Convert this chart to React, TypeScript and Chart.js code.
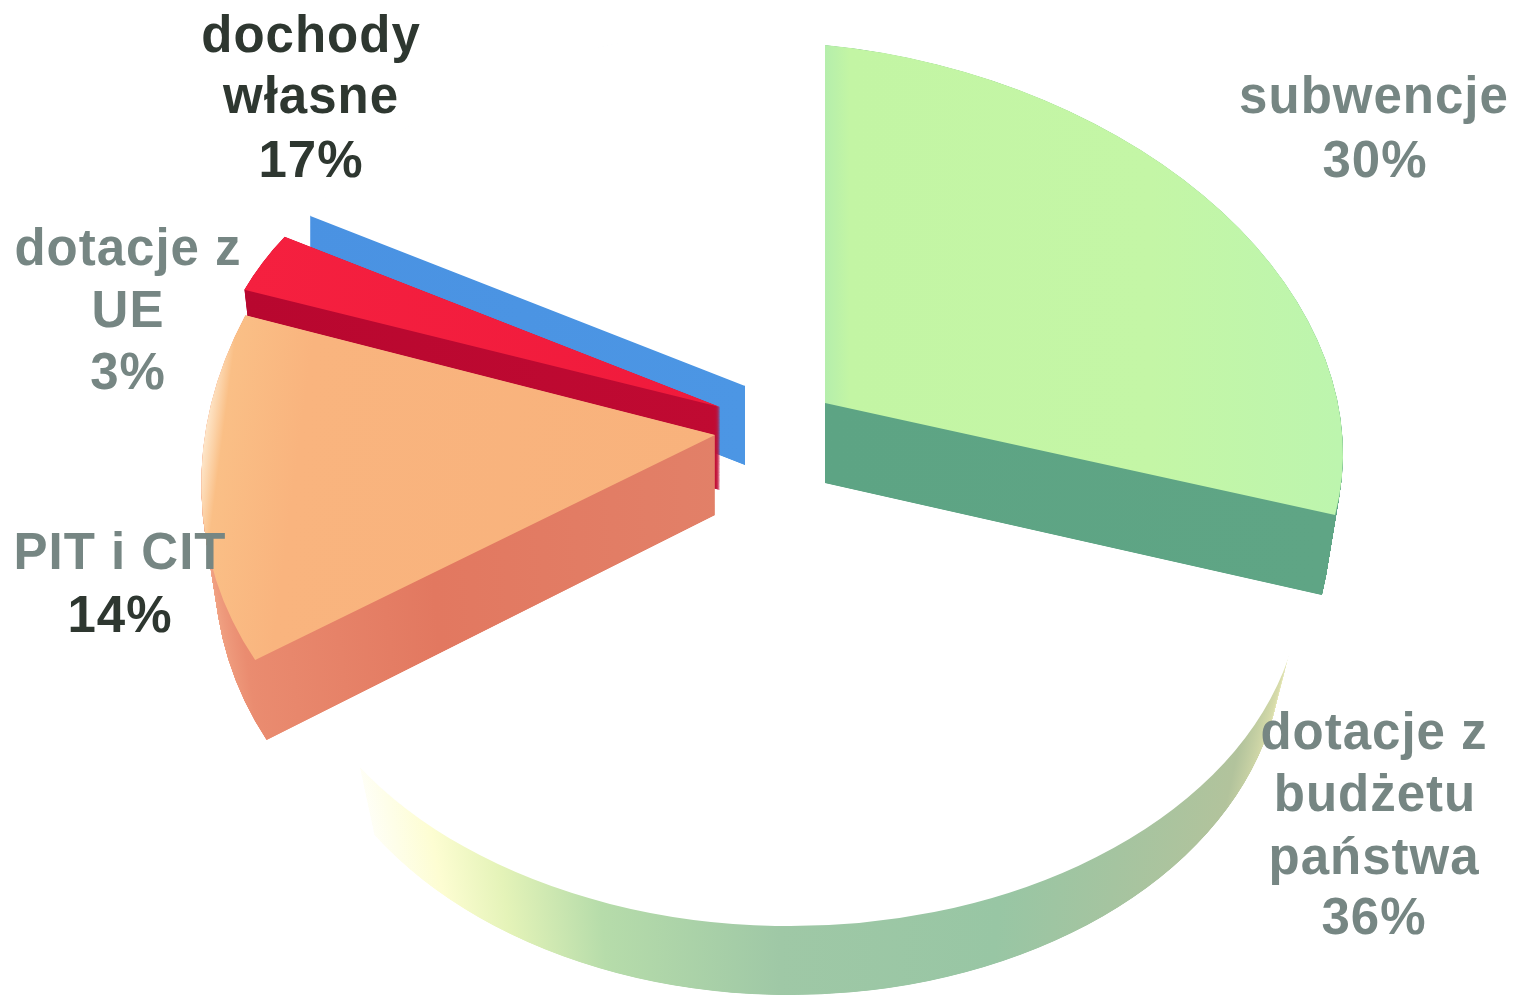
import React, { useEffect, useRef } from "react";
import { Chart, registerables } from "chart.js";

Chart.register(...registerables);

const categories = ["subwencje", "dotacje z budżetu państwa", "PIT i CIT", "dotacje z UE", "dochody własne"];
const shares = [30, 36, 14, 3, 17];

const labelLines = [
  ["subwencje", "30%"],
  ["dotacje z", "budżetu", "państwa", "36%"],
  ["PIT i CIT", "14%"],
  ["dotacje z", "UE", "3%"],
  ["dochody", "własne", "17%"],
];

// Look of each slice: [cx, cy, xu, xv, yu, yv] maps the unit pie on to the page.
const sliceFrames = [
  [825, 403, 518, 0, 50.5, 358],
  [790, 580, 510, 0, 0, 345],
  [715, 435, 511, -53, -7, 409],
  [720, 407, 505, -15, 21, 315],
  [745, 385, 496, 0, 0, 353],
];
const sliceDepth = [80, 70, 80, 83, 80];
const sliceShrink = [0.974, 0.965, 0.975, 0.98, 1];
const startExtension = [0, 0.32, 0, 0, 0];
const sweepFactor = [0.926, 1, 1, 1, 1];
const topBorder = [0, 3, 0, 0, 2.5];
const paintOrder = [1, 4, 3, 2, 0];
const LAYER_STEP = 0.25;

type Stops = [number, string][];
const topStops: Stops[] = [
  [[825, "#b5eeac"], [850, "#c3f5a4"], [1150, "#c4f6a6"], [1340, "#bdf5ae"]],
  [[0, "#ffffff"], [1515, "#ffffff"]],
  [[198, "#fff4e2"], [222, "#fabf86"], [300, "#f9b47e"], [720, "#f8b27c"]],
  [[240, "#f5203f"], [720, "#f01a3c"]],
  [[0, "#ffffff"], [1515, "#ffffff"]],
];
const sideStops: Stops[] = [
  [[825, "#5da484"], [1330, "#5fa585"]],
  [[340, "#ffffff"], [430, "#fdfdd2"], [500, "#e4f3b8"], [600, "#b6dcaa"], [780, "#9fc8a6"], [1000, "#98c6a4"], [1120, "#a5c4a0"], [1240, "#b2c39c"], [1285, "#d8dcaa"], [1303, "#fbf8d2"]],
  [[200, "#f3aa8a"], [270, "#ea8c70"], [450, "#e27860"], [720, "#e28068"]],
  [[240, "#b8072f"], [720, "#c00a32"]],
  [[300, "#4a92e2"], [745, "#4c96e4"]],
];

const labelCenters = [
  [1374, 1375],
  [1374, 1375, 1374, 1374],
  [120, 120],
  [128, 128, 128],
  [311, 311, 311],
];
const labelBaselines = [[113, 177], [749, 811, 874, 934], [569, 632], [265, 327, 389], [52, 113, 177]];
const GREY = "#768683";
const DARK = "#2e3730";
const labelColors = [[GREY, GREY], [GREY, GREY, GREY, GREY], [GREY, DARK], [GREY, GREY, GREY], [DARK, DARK, DARK]];

function localGradient(ctx: CanvasRenderingContext2D, arc: any, frame: number[], stops: Stops) {
  const R = arc.outerRadius;
  const toLocal = (sx: number) => arc.x + ((sx - frame[0]) / frame[2]) * R;
  const x0 = stops[0][0];
  const x1 = stops[stops.length - 1][0];
  const g = ctx.createLinearGradient(toLocal(x0), 0, toLocal(x1), 0);
  stops.forEach(([x, c]) => g.addColorStop((x - x0) / (x1 - x0), c));
  return g;
}

function paintLayer(ctx: CanvasRenderingContext2D, arc: any, i: number, dy: number, shrink: number, fill: any, border: number) {
  const [cx, cy, xu, xv, yu, yv] = sliceFrames[i];
  const R = arc.outerRadius;
  const saved = { options: arc.options, startAngle: arc.startAngle, endAngle: arc.endAngle, circumference: arc.circumference };
  arc.options = { ...saved.options, backgroundColor: fill, borderWidth: border, borderColor: "#ffffff", borderAlign: "center" };
  const span = saved.circumference * sweepFactor[i];
  arc.startAngle = saved.startAngle - startExtension[i];
  arc.endAngle = saved.startAngle + span;
  arc.circumference = span + startExtension[i];
  ctx.save();
  ctx.transform((xu * shrink) / R, yu / R, (xv * shrink) / R, yv / R, cx, cy + dy);
  ctx.translate(-arc.x, -arc.y);
  arc.draw(ctx);
  ctx.restore();
  arc.options = saved.options;
  arc.startAngle = saved.startAngle;
  arc.endAngle = saved.endAngle;
  arc.circumference = saved.circumference;
}

const solidPie = {
  id: "solidPie",
  beforeDatasetDraw(chart: any, args: any) {
    const ctx: CanvasRenderingContext2D = chart.ctx;
    const arcs = args.meta.data;
    paintOrder.forEach((i) => {
      const arc = arcs[i];
      const frame = sliceFrames[i];
      const depth = sliceDepth[i];
      const side = localGradient(ctx, arc, frame, sideStops[i]);
      for (let d = depth; d > 0; d -= LAYER_STEP) {
        const shrink = 1 - (1 - sliceShrink[i]) * (d / depth);
        paintLayer(ctx, arc, i, d, shrink, side, 0);
      }
      paintLayer(ctx, arc, i, 0, 1, localGradient(ctx, arc, frame, topStops[i]), topBorder[i]);
    });
    return false;
  },
  afterDraw(chart: any) {
    const ctx: CanvasRenderingContext2D = chart.ctx;
    ctx.save();
    ctx.font = 'bold 51px "Liberation Sans", Arial, sans-serif';
    (ctx as any).letterSpacing = "1px";
    ctx.textAlign = "center";
    ctx.textBaseline = "alphabetic";
    labelLines.forEach((lines, i) => {
      lines.forEach((line, j) => {
        ctx.fillStyle = labelColors[i][j];
        ctx.fillText(line, labelCenters[i][j], labelBaselines[i][j]);
      });
    });
    ctx.restore();
  },
};

export default function App() {
  const ref = useRef<HTMLCanvasElement | null>(null);
  useEffect(() => {
    if (!ref.current) return;
    const chart = new Chart(ref.current, {
      type: "pie",
      data: {
        labels: categories,
        datasets: [{ data: shares, borderWidth: 0, backgroundColor: "#ffffff" }],
      },
      options: {
        animation: false,
        responsive: false,
        events: [],
        layout: { padding: 0 },
        plugins: { legend: { display: false }, tooltip: { enabled: false }, title: { display: false } },
      },
      plugins: [solidPie],
    } as any);
    return () => chart.destroy();
  }, []);
  return (
    <div style={{ position: "absolute", left: 0, top: 0, width: 1515, height: 995, background: "#fff", overflow: "hidden" }}>
      <canvas ref={ref} width={1515} height={995} style={{ display: "block" }} />
    </div>
  );
}
